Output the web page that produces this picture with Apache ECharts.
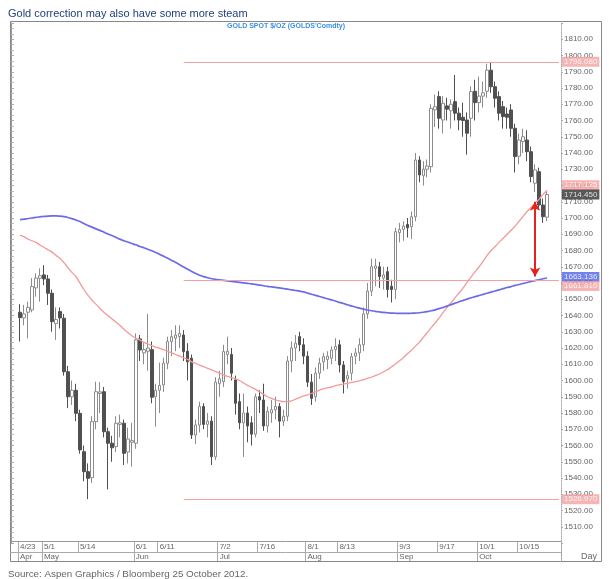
<!DOCTYPE html>
<html>
<head>
<meta charset="utf-8">
<script src="https://cdn.jsdelivr.net/npm/echarts@6/dist/echarts.min.js"></script>
<style>
html,body{margin:0;padding:0;background:#fff;}
#chart{width:609px;height:579px;}
</style>
</head>
<body>
<div id="chart"></div>
<script>
// ---------- DATA ----------
const DATES = ['4/23','4/24','4/25','4/26','4/27','4/30',
'5/1','5/2','5/3','5/4','5/7','5/8','5/9','5/10','5/11','5/14','5/15','5/16','5/17','5/18','5/21','5/22','5/23','5/24','5/25','5/28','5/29','5/30','5/31',
'6/1','6/4','6/5','6/6','6/7','6/8','6/11','6/12','6/13','6/14','6/15','6/18','6/19','6/20','6/21','6/22','6/25','6/26','6/27','6/28','6/29',
'7/2','7/3','7/4','7/5','7/6','7/9','7/10','7/11','7/12','7/13','7/16','7/17','7/18','7/19','7/20','7/23','7/24','7/25','7/26','7/27','7/30','7/31',
'8/1','8/2','8/3','8/6','8/7','8/8','8/9','8/10','8/13','8/14','8/15','8/16','8/17','8/20','8/21','8/22','8/23','8/24','8/27','8/28','8/29','8/30','8/31',
'9/3','9/4','9/5','9/6','9/7','9/10','9/11','9/12','9/13','9/14','9/17','9/18','9/19','9/20','9/21','9/24','9/25','9/26','9/27','9/28',
'10/1','10/2','10/3','10/4','10/5','10/8','10/9','10/10','10/11','10/12','10/15','10/16','10/17','10/18','10/19','10/22','10/23','10/24',
'10/25','10/26','10/29'];

const OPEN = [1642,1638.5,1642,1643.4,1657,1662.9,1665,1662.5,1653.7,1635,1642.4,1638.3,1605.4,1590,1594,1579.8,1556.2,1543.9,1540.2,1574.7,1592,1593.1,1568.5,1561.4,1559.3,1573,1573.7,1556,1562,
1561.4,1625.6,1617,1618,1619,1590,1594,1597.3,1610.6,1624,1626,1627,1628,1618,1613.7,1566.5,1572.6,1584,1573,1575,1553,
1598,1599.3,1616,1616,1600.4,1587,1574,1580,1574,1567,1590,1588,1572,1580,1582,1584,1575,1578,1612,1620,1627,1622,
1615,1599,1590,1604.5,1611.5,1613,1613.7,1619,1622,1609.6,1601,1604.5,1615,1617,1622,1641,1655,1669,1670,1663,1667,1658,1656,
1691,1693,1696,1694.6,1700.8,1735.7,1726,1730,1731.6,1766.5,1774.7,1760.3,1769,1766,1771.6,1764.5,1762,1760.3,1761.4,1778,
1771,1775,1778,1791,1780.8,1774.7,1768.5,1764,1766.5,1755.2,1738,1747,1748,1740.8,1721.4,1728.5,1708,1700.5];

const CLOSE = [1638.7,1641,1645,1657.8,1663,1664.5,1662.5,1653.7,1636.2,1637.5,1638.5,1605.4,1590,1594,1579.8,1557.3,1543.9,1539.8,1574.7,1593.1,1593,1568.5,1561.4,1558.6,1573.7,1574,1555.2,1564,1563,
1625,1618.8,1619,1620,1589.7,1594,1597,1610.6,1624,1627,1628,1629,1617.8,1611.5,1566.5,1572.6,1584,1573,1575,1553.1,1599,
1601,1617.8,1618,1604.5,1586,1574,1580,1572,1567,1590,1588,1572,1581,1582,1584,1575,1578,1612,1620,1623,1622,1615,
1599,1589,1604.5,1610.6,1614.7,1615,1618.8,1621,1609.6,1599.3,1603,1614.7,1617,1622,1641,1655,1670,1670.5,1664,1665,1656,1656,1691.6,
1693,1695,1694,1700.8,1735.7,1726.5,1730,1732,1767.5,1768.5,1761.4,1770.6,1767,1770,1764.5,1760.3,1760,1752.2,1777.8,1771,
1775,1777,1791,1780.8,1773.7,1764.5,1762.4,1762,1755.2,1737.8,1748,1750,1740.8,1725.5,1729.6,1708,1700.8,1714.45];

const LOW = [1624,1634,1626,1642,1651.6,1648.5,1658.7,1646.5,1630,1625,1632,1603,1583,1585,1575,1555,1538,1527,1537,1570,1580,1565,1533,1550,1556,1565,1548,1549,1547,
1558,1612,1610,1606,1586,1571.6,1580,1593,1607,1615,1618,1620,1612,1600,1564,1561,1568,1570,1565,1548,1551,
1590,1596,1610,1600,1579,1570,1553,1562,1560,1565,1580,1569,1568,1574,1576,1565,1572,1575,1605,1612,1618,1610,
1596,1585,1587,1601,1606,1607,1610,1612,1605,1592,1595,1600,1610,1612,1618,1638,1652,1658,1657,1656,1651,1648,1650,
1685,1686,1688,1687,1698,1722,1720,1725,1728,1756,1755,1752,1760,1755,1760,1754,1750,1739,1750,1760,
1765,1768,1774,1777,1768,1760,1755,1755,1750,1728,1733,1740,1735,1722,1716,1705,1697,1698];

const HIGH = [1647,1646.5,1648.5,1663,1666,1669,1671,1665,1656,1645,1645,1641,1609,1600,1598,1582,1560,1549,1578,1599.3,1599,1596,1571,1566,1578,1579,1576,1571,1574,
1629,1628,1623,1641,1624,1598,1611,1614,1627,1631,1634,1634,1631,1623,1616,1576,1587,1586,1580,1578,1602,
1606,1622,1627,1620,1603,1592,1592,1584,1578,1592,1594,1598,1584,1588,1590,1586,1582,1615,1624,1628,1630,1626,
1618,1604,1608,1614,1617,1618,1621,1626,1625,1612,1606,1617,1620,1626,1645,1660,1675,1675,1673,1670,1670,1662,1694,
1697,1698,1700,1704,1740,1738,1735,1736,1770,1776,1778,1775,1774,1773,1788,1768,1771,1765,1781,1785,
1787,1784,1795,1796.08,1784,1778,1772,1768,1770,1758,1752,1755,1754,1744,1733,1731,1712,1716];

const MA_RED = [1689.5,1688.5,1687,1686,1685,1683.4,1682,1680.5,1679,1677,1675.2,1672.5,1669.5,1666.5,1664,1660,1656,1652.5,1649.5,1647,
1644.5,1642,1640,1638,1636,1634,1631.5,1629.5,1627.5,1626,1625,1623.5,1622.5,1621.5,1620.5,1619.8,1619,1618,1617,1616,
1615,1614,1613,1611.5,1610.5,1609.5,1608.5,1607.5,1606.5,1605.5,1604.5,1603.5,1602.5,1601.8,1601,1600,1598.5,1597,1595.8,1594.5,
1593,1591.5,1590,1589,1588,1587.5,1587,1587,1587.5,1588.5,1589.5,1590.5,1591.2,1592,1593,1594,1595,1595.5,1596,1596.8,
1597.3,1597.8,1598.3,1598.8,1599.3,1599.8,1600.5,1601.3,1602,1603,1604,1605.2,1606.6,1608.3,1610,1612,1614,1616.3,1618.5,1621,
1623.5,1626.5,1629.5,1632.5,1635.5,1638.5,1642,1645,1648,1651,1654,1657,1660.5,1663.8,1667,1670,1673.5,1677,1680,1682.5,
1685,1687.5,1690,1692.5,1695,1698,1701,1704,1706.5,1709,1711.5,1714.5,1717.1];

const MA_BLUE = [1699,1699.3,1699.7,1700,1700.4,1700.7,1701,1701.2,1701.3,1701.3,1701.1,1700.8,1700.3,1699.6,1698.8,1697.8,1696.6,1695.4,1694.4,1693.3,
1692.4,1691.3,1690.2,1689.2,1688.1,1687,1686,1685.2,1684.3,1683.5,1682.5,1681.7,1680.8,1679.8,1678.8,1677.6,1676.4,1675.2,1673.9,1672.6,
1671.2,1669.8,1668.4,1667.1,1665.9,1664.8,1663.9,1663.2,1662.6,1662.2,1661.9,1661.6,1661.3,1661,1660.7,1660.4,1660.1,1659.8,1659.5,1659.1,
1658.7,1658.3,1657.9,1657.6,1657.3,1657,1656.6,1656.2,1655.8,1655.4,1655,1654.5,1653.8,1653.1,1652.4,1651.7,1651,1650.3,1649.6,1648.9,
1648.1,1647.4,1646.6,1645.9,1645.2,1644.5,1643.9,1643.4,1642.9,1642.5,1642.2,1641.9,1641.7,1641.5,1641.4,1641.3,1641.3,1641.3,1641.4,1641.5,
1641.7,1642,1642.4,1642.9,1643.5,1644.2,1645,1645.8,1646.7,1647.6,1648.5,1649.3,1650.1,1650.9,1651.6,1652.3,1653,1653.7,1654.4,1655.1,
1655.8,1656.5,1657.2,1657.8,1658.5,1659.1,1659.7,1660.3,1660.9,1661.5,1662,1662.6,1663.1];

const DAY_TICKS = ['4/23','5/1','5/14','6/1','6/11','7/2','7/16','8/1','8/13','9/3','9/17','10/1','10/15'];
const MONTH_STARTS = ['4/23','5/1','6/1','7/2','8/1','9/3','10/1'];
const MONTH_NAMES = ['Apr','May','Jun','Jul','Aug','Sep','Oct'];

const LEVELS = [1796.08, 1661.81, 1526.97];
const LEVEL_TEXT = ['1796.080','1661.810','1526.970'];
const LEVEL_FROM = '6/19';
const LAST_PRICE = 1714.45, LAST_TEXT = '1714.450';
const RED_LAST = 1717.135, RED_TEXT = '1717.135';
const BLUE_LAST = 1663.136, BLUE_TEXT = '1663.136';
const ARROW_DATE = '10/19', ARROW_TOP = 1710, ARROW_BOTTOM = 1664;

const Y_MIN = 1500, Y_MAX = 1820, Y_STEP = 10;

// ---------- CHART ----------
const FONT = "'Liberation Sans', Arial, sans-serif";
const candles = OPEN.map((o, i) => [o, CLOSE[i], LOW[i], HIGH[i]]);
const lastCat = DATES[DATES.length - 1];
const PINK = '#f3a2a2';

function box(v, text, bg, dy) {
  return {
    value: [lastCat, v],
    label: {
      show: true, position: 'right', distance: 3, offset: [0, dy],
      formatter: text, color: '#fff', backgroundColor: bg,
      fontSize: 8, fontFamily: FONT, lineHeight: 9, padding: [1, 2, 0, 2]
    }
  };
}

const chart = echarts.init(document.getElementById('chart'), null, {renderer: 'canvas'});
chart.setOption({
  animation: false,
  backgroundColor: '#fff',
  title: [
    {text: 'Gold correction may also have some more steam', left: 8, top: 8, padding: 0,
     textStyle: {fontSize: 11, fontWeight: 'normal', color: '#22407f', fontFamily: FONT}},
    {text: "GOLD SPOT $/OZ (GOLDS'Comdty)", left: 286, top: 23, padding: 0, textAlign: 'center',
     textStyle: {fontSize: 7, fontWeight: 'bold', color: '#3a8fe4', fontFamily: FONT}},
    {text: 'Source: Aspen Graphics / Bloomberg 25 October 2012.', left: 8, top: 569, padding: 0,
     textStyle: {fontSize: 9.8, fontWeight: 'normal', color: '#666', fontFamily: FONT}}
  ],
  grid: {left: 18, top: 23, width: 543, height: 520, containLabel: false},
  xAxis: [
    {type: 'category', data: DATES, boundaryGap: true, position: 'bottom', offset: -2,
     axisLine: {show: false},
     axisTick: {show: true, length: 11, interval: (i, v) => DAY_TICKS.includes(v), lineStyle: {color: '#aaa'}},
     axisLabel: {show: true, interval: (i, v) => DAY_TICKS.includes(v), align: 'left', margin: 2,
                 fontSize: 8, color: '#666', fontFamily: FONT},
     splitLine: {show: false}},
    {type: 'category', data: DATES, boundaryGap: true, position: 'bottom', offset: 9,
     axisLine: {show: false},
     axisTick: {show: true, length: 10, interval: (i, v) => MONTH_STARTS.includes(v), lineStyle: {color: '#aaa'}},
     axisLabel: {show: true, interval: (i, v) => MONTH_STARTS.includes(v), align: 'left', margin: 1,
                 fontSize: 8, color: '#666', fontFamily: FONT,
                 formatter: v => MONTH_NAMES[MONTH_STARTS.indexOf(v)]},
     splitLine: {show: false}}
  ],
  yAxis: [
    {type: 'value', position: 'right', min: Y_MIN, max: Y_MAX, interval: Y_STEP, scale: true,
     axisLine: {show: true, lineStyle: {color: '#aaa', type: 'dotted'}},
     axisTick: {show: true, length: 2, lineStyle: {color: '#aaa'}},
     axisLabel: {margin: 3, fontSize: 8, color: '#666', fontFamily: FONT,
                 formatter: v => (v <= Y_MIN || v >= Y_MAX) ? '' : v.toFixed(2)},
     splitLine: {show: false}},
    {type: 'value', position: 'left', offset: 7, min: Y_MIN, max: Y_MAX, interval: Y_STEP,
     axisLine: {show: true, lineStyle: {color: '#999'}},
     axisTick: {show: true, inside: true, length: 3, lineStyle: {color: '#aaa'}},
     minorTick: {show: true, splitNumber: 3, length: 3, lineStyle: {color: '#bbb'}},
     axisLabel: {show: false}, splitLine: {show: false}}
  ],
  series: [
    {
      name: 'GOLD', type: 'candlestick', data: candles, barWidth: 3,
      itemStyle: {color: '#ffffff', color0: '#505050', borderColor: '#8c8c8c', borderColor0: '#505050', borderWidth: 1},
      markLine: {
        silent: true, symbol: ['none', 'none'], animation: false,
        label: {show: false},
        lineStyle: {color: PINK, width: 1, type: 'solid'},
        data: LEVELS.map(v => [{xAxis: LEVEL_FROM, yAxis: v}, {xAxis: lastCat, yAxis: v}]).concat([
          [{xAxis: ARROW_DATE, yAxis: ARROW_TOP, symbol: 'arrow', symbolSize: [8, 9],
            lineStyle: {color: '#e4231c', width: 2}},
           {xAxis: ARROW_DATE, yAxis: ARROW_BOTTOM, symbol: 'arrow', symbolSize: [8, 9]}]
        ])
      },
      z: 2
    },
    {name: 'MA red', type: 'line', data: MA_RED, showSymbol: false, smooth: 0.3,
     lineStyle: {color: '#f29a9a', width: 1.3}, z: 3},
    {name: 'MA blue', type: 'line', data: MA_BLUE, showSymbol: false, smooth: 0.3,
     lineStyle: {color: '#6b6bea', width: 1.7}, z: 3},
    {name: 'value boxes', type: 'scatter', symbolSize: 0, silent: true, z: 5,
     data: [
       box(LEVELS[0], LEVEL_TEXT[0], PINK, 0),
       box(RED_LAST, RED_TEXT, PINK, -5),
       box(LAST_PRICE, LAST_TEXT, '#2e2e2e', 0),
       box(BLUE_LAST, BLUE_TEXT, '#4f63e6', -1),
       box(LEVELS[1], LEVEL_TEXT[1], PINK, 6),
       box(LEVELS[2], LEVEL_TEXT[2], PINK, 0)
     ]}
  ],
  graphic: [
    {type: 'rect', silent: true, shape: {x: 10.5, y: 21.5, width: 591, height: 540},
     style: {fill: 'none', stroke: '#888', lineWidth: 1}, z: 10},
    {type: 'line', silent: true, shape: {x1: 10, y1: 541.5, x2: 561, y2: 541.5}, style: {stroke: '#999', lineWidth: 1}, z: 10},
    {type: 'line', silent: true, shape: {x1: 10, y1: 552.5, x2: 561, y2: 552.5}, style: {stroke: '#aaa', lineWidth: 1}, z: 10},
    {type: 'line', silent: true, shape: {x1: 561.5, y1: 541, x2: 561.5, y2: 562}, style: {stroke: '#aaa', lineWidth: 1}, z: 10},
    {type: 'text', silent: true, x: 589, y: 557, style: {text: 'Day', fill: '#666', fontSize: 9, fontFamily: FONT, align: 'center', verticalAlign: 'middle'}, z: 10}
  ]
});
</script>
</body>
</html>
